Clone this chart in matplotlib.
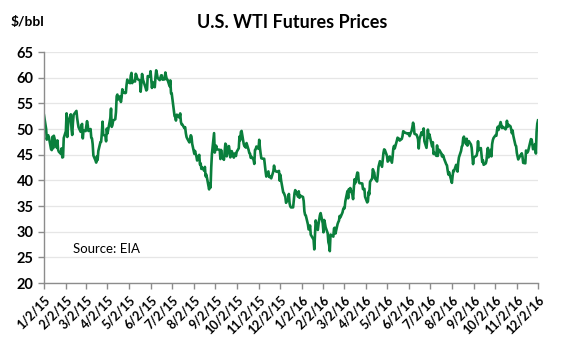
import datetime as dt
import pandas as pd
import matplotlib
matplotlib.use("Agg")
import matplotlib.pyplot as plt
import matplotlib.dates as mdates

# trading-day calendar
start_date = "2015-01-02"
end_date = "2016-12-02"
holidays = ["2015-01-19", "2015-02-16", "2015-04-03", "2015-05-25", "2015-07-03",
            "2015-09-07", "2015-11-26", "2015-12-25", "2016-01-01", "2016-01-18",
            "2016-02-15", "2016-03-25", "2016-05-30", "2016-07-04", "2016-09-05",
            "2016-11-24"]

# daily WTI closes, $/bbl
prices_2015 = [
    52.69, 50.04, 47.93, 48.65, 48.79, 48.36, 46.07, 45.89, 48.48, 46.25,
    48.69, 46.39, 47.78, 45.99, 45.59, 45.15, 46.23, 44.45, 44.53, 48.24,
    49.57, 53.05, 48.45, 50.48, 51.69, 52.86, 50.02, 48.84, 51.21, 52.78,
    53.53, 52.14, 51.16, 50.34, 49.45, 50.72, 50.99, 48.17, 49.76,
    49.59, 50.52, 51.53, 50.76, 49.61, 50.00, 48.29, 48.17, 47.05, 44.84,
    43.88, 43.46, 44.66, 43.96, 45.72, 47.45, 47.51, 49.21, 51.43, 48.87,
    48.68, 47.60,
    50.09, 49.14, 52.14, 53.98, 50.42, 50.79, 51.64, 51.91, 53.29, 56.39,
    56.71, 55.74, 56.38, 55.26, 56.16, 57.74, 57.15, 56.99, 57.06, 58.58,
    59.62,
    59.15, 58.93, 60.40, 60.93, 58.94, 59.39, 59.25, 60.75, 60.50, 59.88,
    59.69, 59.43, 57.26, 58.98, 60.72, 59.72, 58.03, 57.51, 57.68, 60.30,
    60.20, 61.26, 59.64, 58.00, 59.13, 58.14, 60.14, 61.43, 60.77, 59.96,
    59.52, 59.97, 60.45, 60.45, 59.61, 59.68, 61.01, 60.27, 59.70, 59.63,
    58.33, 59.47,
    56.96, 56.93, 52.53, 52.33, 51.65, 52.78, 52.74, 52.20, 53.04, 51.41,
    50.91, 50.89, 50.15, 50.36, 49.19, 48.45, 48.14, 47.39, 47.98, 48.79,
    48.52, 47.12,
    45.17, 45.74, 45.15, 44.66, 43.87, 44.96, 43.08, 43.30, 42.23, 42.50,
    41.87, 42.62, 40.80, 41.14, 40.45, 38.24, 39.31, 38.60, 42.56, 45.22,
    49.20,
    45.41, 46.25, 46.75, 46.05, 45.94, 44.15, 45.92, 44.63, 44.00, 45.59,
    47.15, 46.90, 44.68, 46.68, 45.83, 44.48, 44.91, 45.70, 44.43, 45.23,
    45.09,
    44.74, 45.54, 46.26, 48.53, 47.81, 49.43, 49.63, 47.10, 46.66, 46.64,
    46.38, 47.26, 45.89, 45.29, 45.20, 44.38, 44.60, 43.98, 43.20, 45.94,
    46.06, 46.59,
    46.14, 47.90, 46.32, 45.20, 44.29, 44.21, 44.21, 42.93, 41.75, 40.74,
    41.74, 40.67, 40.75, 40.54, 40.39, 41.75, 42.87, 42.04, 41.71, 41.65,
    41.85, 39.94, 41.08, 39.97, 37.65, 37.51, 37.16, 36.76, 35.62, 36.31,
    37.35, 35.52, 34.95, 34.73, 34.74, 36.14, 37.50, 38.10, 36.81, 37.87,
    36.60, 37.04,
]

prices_2016 = [
    36.76, 35.97, 33.97, 33.27, 33.16, 31.41, 30.44, 30.48, 31.20, 29.42,
    28.46, 26.55, 29.53, 32.19, 30.34, 31.45, 32.30, 33.22, 33.62,
    31.62, 29.88, 32.28, 31.72, 30.89, 29.69, 27.94, 27.45, 26.21, 29.44,
    29.04, 30.66, 30.77, 29.64, 31.48, 31.87, 32.15, 33.07, 32.78, 33.75,
    34.40, 34.66, 34.57, 35.92, 37.90, 36.50, 38.29, 37.84, 38.50, 37.18,
    36.34, 38.46, 40.20, 39.44, 41.52, 41.45, 39.79, 39.46, 39.39, 38.28,
    38.32, 38.34,
    36.79, 35.70, 35.89, 37.75, 37.26, 39.72, 40.36, 42.17, 41.76, 41.50,
    40.36, 39.78, 41.08, 42.63, 43.18, 43.73, 42.64, 44.04, 45.33, 46.03,
    45.92,
    44.78, 43.65, 43.78, 44.32, 44.66, 43.44, 44.66, 46.23, 46.70, 46.21,
    47.72, 48.31, 48.19, 48.12, 47.75, 48.08, 48.62, 49.56, 49.48, 49.33,
    49.10,
    49.01, 49.17, 48.62, 49.69, 50.36, 51.23, 50.56, 49.07, 48.88, 48.49,
    48.01, 46.21, 47.98, 49.37, 48.85, 49.13, 50.11, 47.64, 46.33, 47.85,
    49.88, 48.33,
    48.99, 46.60, 47.43, 45.14, 45.41, 44.76, 46.80, 44.75, 45.68, 45.95,
    45.24, 44.65, 44.94, 44.75, 44.19, 43.13, 42.92, 41.92, 41.14, 41.60,
    40.06, 39.51, 40.83, 41.93, 41.80, 43.02, 42.77, 41.71, 43.49, 44.49,
    45.74, 46.58, 46.79, 48.22, 48.52, 47.05, 48.10, 46.77, 47.33, 47.64,
    46.98, 46.35, 44.70,
    43.16, 44.44, 44.83, 45.50, 47.62, 45.88, 46.29, 44.90, 43.58, 43.91,
    43.03, 43.30, 43.85, 45.34, 46.32, 44.48, 45.93, 44.67, 47.05, 47.83,
    48.24,
    48.81, 48.69, 49.83, 50.44, 49.81, 51.35, 50.79, 50.18, 50.44, 50.35,
    49.94, 50.29, 51.60, 50.43, 50.85, 50.52, 49.96, 49.18, 49.72, 48.70,
    46.86,
    46.67, 45.34, 44.66, 44.07, 44.89, 44.98, 45.27, 44.66, 43.41, 43.32,
    45.81, 45.57, 45.42, 45.69, 47.49, 48.03, 47.96, 46.06, 47.08, 45.23,
    49.44,
    51.06, 51.68,
]

y_ticks = [20, 25, 30, 35, 40, 45, 50, 55, 60, 65]

dates = pd.bdate_range(start_date, end_date, freq="C", holidays=holidays)
prices = prices_2015 + prices_2016
n = min(len(dates), len(prices))
dates = dates[:n]
prices = prices[:n]

plt.rcParams['font.family'] = ['Lato', 'DejaVu Sans']

fig = plt.figure(figsize=(5.61, 3.46), dpi=100)
ax = fig.add_axes([0.0784, 0.182, 0.8806, 0.6677])

ax.plot(dates, prices, color="#0A7F3C", linewidth=1.9)

ax.set_ylim(20, 65)
ax.set_yticks(y_ticks)
ax.set_xlim(pd.Timestamp(start_date), pd.Timestamp(end_date))
ax.xaxis.set_major_locator(mdates.MonthLocator(bymonthday=2))
ax.xaxis.set_major_formatter(
    plt.FuncFormatter(lambda v, p: "{d.month}/{d.day}/{y}".format(
        d=mdates.num2date(v), y=mdates.num2date(v).strftime("%y"))))

ax.grid(axis="y", color="#E6E6E6", linewidth=0.9)
ax.set_axisbelow(True)
for s in ["top", "right"]:
    ax.spines[s].set_visible(False)
for s in ["left", "bottom"]:
    ax.spines[s].set_color("#8C8C8C")
    ax.spines[s].set_linewidth(1.0)
ax.tick_params(axis="both", colors="#8C8C8C", length=4, width=1.0)
for lbl in ax.get_yticklabels():
    lbl.set_color("black")
    lbl.set_fontweight("bold")
    lbl.set_fontsize(10.5)
for lbl in ax.get_xticklabels():
    lbl.set_color("black")
    lbl.set_fontweight("bold")
    lbl.set_fontsize(9)
    lbl.set_rotation(45)
    lbl.set_ha("right")
    lbl.set_rotation_mode("anchor")

fig.text(0.52, 0.935, "U.S. WTI Futures Prices", ha="center", va="center",
         fontsize=13, fontweight="bold")
fig.text(0.018, 0.935, "$/bbl", ha="left", va="center",
         fontsize=10, fontweight="bold")
ax.text(0.059, 0.148, "Source: EIA", transform=ax.transAxes, ha="left",
        va="center", fontsize=9.5)

fig.savefig("out.png", dpi=100)
